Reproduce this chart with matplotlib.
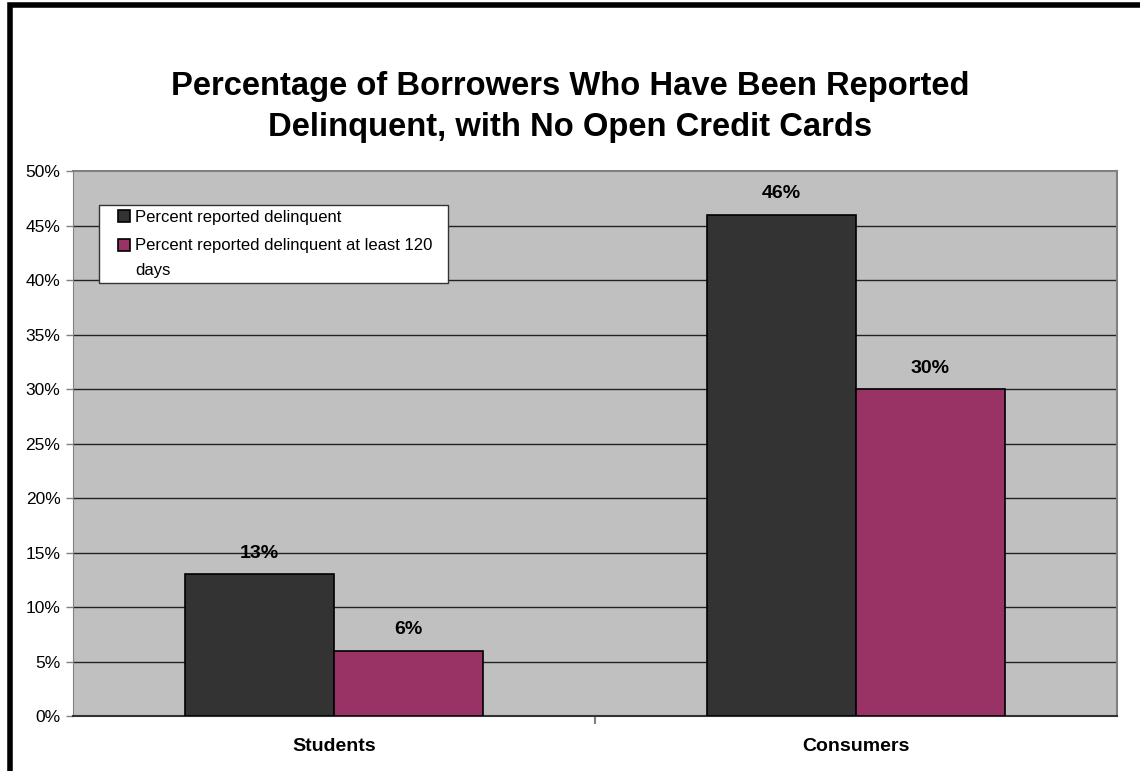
import matplotlib.pyplot as plt
from matplotlib.patches import Rectangle
from matplotlib.legend_handler import HandlerPatch
import numpy as np

plt.rcParams['font.family'] = ['Liberation Sans', 'DejaVu Sans']

groups = ['Students', 'Consumers']
series_names = ['Percent reported delinquent',
                'Percent reported delinquent at least 120\ndays']
reported = [13, 46]
reported_120 = [6, 30]
yticks = [0, 5, 10, 15, 20, 25, 30, 35, 40, 45, 50]

# number of text lines behind each legend key, filled in once the bars exist
key_lines = {}


def small_square(legend, orig_handle, xdescent, ydescent, width, height, fontsize):
    # little square key at the right end of the handle box, level with the first text line
    s = 0.7 * fontsize
    lift = (key_lines.get(orig_handle, 1) - 1) * 0.5 * 1.56 * fontsize
    return Rectangle((width - s - xdescent, -ydescent + (height - s) / 2 + lift), s, s)


fig = plt.figure(figsize=(11.4, 7.71), dpi=100)
ax = fig.add_axes([0.0640, 0.0713, 0.9158, 0.7069])
ax.set_facecolor('#C0C0C0')

x = np.arange(len(groups))
w = 0.285
b1 = ax.bar(x - w / 2, reported, w, color='#333333', edgecolor='black', linewidth=1.2, zorder=3)
b2 = ax.bar(x + w / 2, reported_120, w, color='#993366', edgecolor='black', linewidth=1.2, zorder=3)

for bars, vals in ((b1, reported), (b2, reported_120)):
    for r, v in zip(bars, vals):
        ax.annotate('%d%%' % v, (r.get_x() + r.get_width() / 2, v),
                    xytext=(0, 9), textcoords='offset points',
                    ha='center', va='bottom', fontsize=14, fontweight='bold')

ax.set_xlim(-0.5, 1.5)
ax.set_ylim(0, 50)
ax.set_yticks(yticks)
ax.set_yticklabels(['%d%%' % t for t in yticks], fontsize=12.5)
for t in yticks[1:-1]:
    ax.axhline(t, color='#222222', linewidth=1, zorder=1)

ax.set_xticks(x)
ax.set_xticklabels(groups, fontsize=14, fontweight='bold')
ax.tick_params(axis='x', length=0, pad=16)
ax.set_xticks([0.5], minor=True)
ax.tick_params(axis='x', which='minor', length=6, width=1.5, color='#808080')
ax.tick_params(axis='y', length=5, width=1, color='#808080', pad=4)

for s in ('top', 'right'):
    ax.spines[s].set_color('#808080')
    ax.spines[s].set_linewidth(1.5)
ax.spines['left'].set_color('#808080')
ax.spines['bottom'].set_color('#333333')
ax.spines['bottom'].set_linewidth(1.5)

keys = [b1.patches[0], b2.patches[0]]
for k, name in zip(keys, series_names):
    key_lines[k] = name.count('\n') + 1

leg = ax.legend(keys, series_names,
                loc='upper left', mode='expand',
                bbox_to_anchor=(0.0249, 0, 0.3343, 0.9376), fontsize=12,
                frameon=True, fancybox=False, framealpha=1,
                facecolor='white', handlelength=1.55,
                handleheight=0.7, handletextpad=0.3, labelspacing=0.75,
                borderpad=0.3, borderaxespad=0,
                handler_map={Rectangle: HandlerPatch(patch_func=small_square)})
for t in leg.get_texts():
    t.set_linespacing(1.9)
leg.get_frame().set_edgecolor('#333333')
leg.get_frame().set_linewidth(1)
leg.set_zorder(5)

fig.text(0.5, 0.861, 'Percentage of Borrowers Who Have Been Reported\nDelinquent, with No Open Credit Cards',
         ha='center', va='center', fontsize=23.6, fontweight='bold', linespacing=1.4)

# heavy frame along the top and left edges of the chart
fig.patches.append(Rectangle((10.5 / 1140, -0.1), 1.2, 1 - 5.5 / 771 + 0.1,
                             transform=fig.transFigure, fill=False,
                             edgecolor='black', linewidth=4))

fig.savefig('out.png', dpi=100)
